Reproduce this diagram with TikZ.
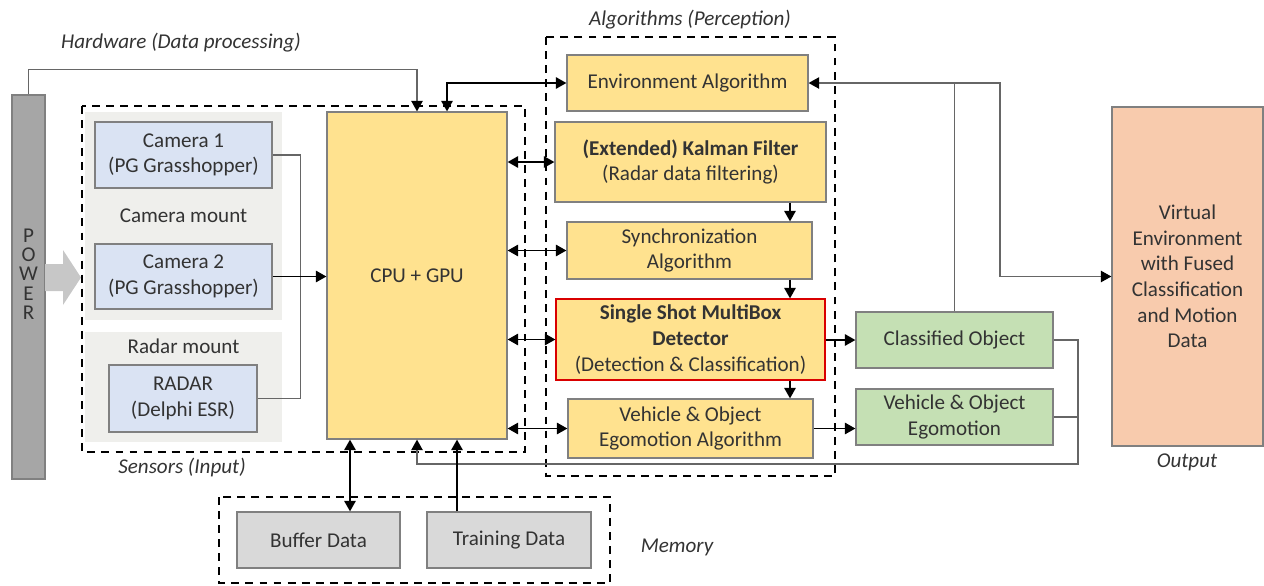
\documentclass[tikz,border=0pt]{standalone}
\usepackage{fontspec}
\setmainfont{Carlito}
\usetikzlibrary{arrows.meta}
\definecolor{camblue}{HTML}{DAE3F3}
\definecolor{algoyellow}{HTML}{FFE28F}
\definecolor{objgreen}{HTML}{C5E0B4}
\definecolor{outorange}{HTML}{F8CBAD}
\definecolor{memgray}{HTML}{D9D9D9}
\definecolor{powergray}{HTML}{A6A6A6}
\definecolor{mountgray}{HTML}{EFEFEC}
\definecolor{txtgray}{HTML}{333333}
\tikzset{
  sz/.style 2 args={minimum width=#1*0.02cm, minimum height=#2*0.02cm},
  blk/.style={draw=black!50, line width=0.7pt, align=center, inner sep=0pt, text=txtgray},
  sensorbox/.style={blk, fill=camblue},
  algobox/.style={blk, fill=algoyellow},
  objbox/.style={blk, fill=objgreen},
  outbox/.style={blk, fill=outorange},
  membox/.style={blk, fill=memgray},
  mount/.style={fill=mountgray, inner sep=0pt, text=txtgray},
  frame/.style={line width=1pt, dash pattern=on 4.5pt off 3.5pt},
  grouplbl/.style={font=\fontsize{12}{14.6}\itshape, text=txtgray},
  tip/.tip={Triangle[length=6pt, width=6.5pt, color=black]},
  arr/.style={line width=1pt, -tip},
  biarr/.style={line width=1pt, tip-tip},
  thin/.style={draw=black!60, line width=0.7pt},
  thinarr/.style={thin, -tip}
}
\begin{document}
\begin{tikzpicture}[x=0.02cm, y=-0.02cm, font=\fontsize{12}{14.6}\selectfont]
  \useasboundingbox (0,0) rectangle (1264,585);
  \node[mount, sz={197}{208}] (cammount) at (183.5,216) {Camera mount};
  \node[mount, sz={197}{110}] (radmount) at (183.5,387) {};
  \node[text=txtgray] (radlbl) at (183.5,346) {Radar mount};
  \draw[frame] (82,106) rectangle (525,452);
  \draw[frame] (546,37) rectangle (835,476);
  \draw[frame] (219,497) rectangle (610,583);
  \node[grouplbl] (hwlbl) at (181,43) {Hardware (Data processing)};
  \node[grouplbl] (senslbl) at (182,467) {Sensors (Input)};
  \node[grouplbl] (algolbl) at (690,20) {Algorithms (Perception)};
  \node[grouplbl] (outlbl) at (1187,462) {Output};
  \node[grouplbl] (memlbl) at (677,547) {Memory};

  \node[blk, fill=powergray, sz={33}{384}] (power) at (28.5,287) {};
  \node[align=center, text=txtgray, font=\fontsize{12}{11}\selectfont] (powertxt) at (28.5,274) {P\\O\\W\\E\\R};
  \fill[black!22] (45,264) -- (63,264) -- (63,250) -- (81,277.5) -- (63,305) -- (63,291) -- (45,291) -- cycle;

  \node[sensorbox, sz={177}{66}] (cam1) at (183.5,155) {Camera 1\\(PG Grasshopper)};
  \node[sensorbox, sz={177}{65}] (cam2) at (183.5,276.5) {Camera 2\\(PG Grasshopper)};
  \node[sensorbox, sz={148}{67}] (radar) at (183,398.5) {RADAR\\(Delphi ESR)};
  \node[algobox, sz={180}{327}] (cpu) at (417,275.5) {CPU + GPU};
  \node[algobox, sz={241}{56}] (env) at (687.5,83) {Environment Algorithm};
  \node[algobox, sz={271}{80}] (kalman) at (690.5,162) {\textbf{(Extended) Kalman Filter}\\(Radar data filtering)};
  \node[algobox, sz={245}{57}] (sync) at (689.5,250.5) {Synchronization\\Algorithm};
  \node[algobox, draw=red!85!black, sz={269}{81}] (ssd) at (690.5,339.5) {\textbf{Single Shot MultiBox}\\\textbf{Detector}\\(Detection \& Classification)};
  \node[algobox, sz={245}{59}] (vehalgo) at (690.5,428.5) {Vehicle \& Object\\Egomotion Algorithm};
  \node[objbox, sz={197}{56}] (classobj) at (954.5,340) {Classified Object};
  \node[objbox, sz={197}{56}] (vehego) at (954.5,417) {Vehicle \& Object\\Egomotion};
  \node[outbox, sz={151}{339}] (virtual) at (1187.5,276.5) {Virtual\\Environment\\with Fused\\Classification\\and Motion\\Data};
  \node[membox, sz={163}{56}] (buffer) at (318.5,540) {Buffer Data};
  \node[membox, sz={164}{56}] (training) at (509,540) {Training Data};

  \coordinate (envx) at (447,0);
  \coordinate (dn) at (790,0);
  \coordinate (outbus) at (1000,0);
  \coordinate (fb) at (1078,464);
  \coordinate (bufx) at (350,0);
  \coordinate (trnx) at (457,0);

  \draw[thin] (cam1.east) -- ++(28,0) |- (radar.east);
  \draw[arr] (cam2.east) -- (cpu.west |- cam2.east);
  \draw[thinarr] (power.north) -- ++(0,-25) -| (cpu.north);
  \draw[biarr] (envx |- cpu.north) |- (env.west);
  \foreach \b in {kalman,sync,ssd,vehalgo}
    \draw[biarr] (\b.west -| cpu.east) -- (\b.west);
  \foreach \a/\b in {kalman/sync,sync/ssd,ssd/vehalgo}
    \draw[arr] (\a.south -| dn) -- (\b.north -| dn);
  \draw[arr] (ssd.east |- classobj.west) -- (classobj.west);
  \draw[arr] (vehalgo.east) -- (vehalgo.east -| vehego.west);
  \draw[thinarr] (classobj.north) |- (env.east);
  \draw[thinarr] (classobj.north |- env.east) -- (outbus |- env.east) |- (virtual.west);
  \draw[thinarr] (classobj.east) -| (fb) -| (cpu.south);
  \draw[thin] (vehego.east) -- (vehego.east -| fb);
  \draw[biarr] (bufx |- cpu.south) -- (bufx |- buffer.north);
  \draw[arr] (trnx |- training.north) -- (trnx |- cpu.south);
\end{tikzpicture}
\end{document}
